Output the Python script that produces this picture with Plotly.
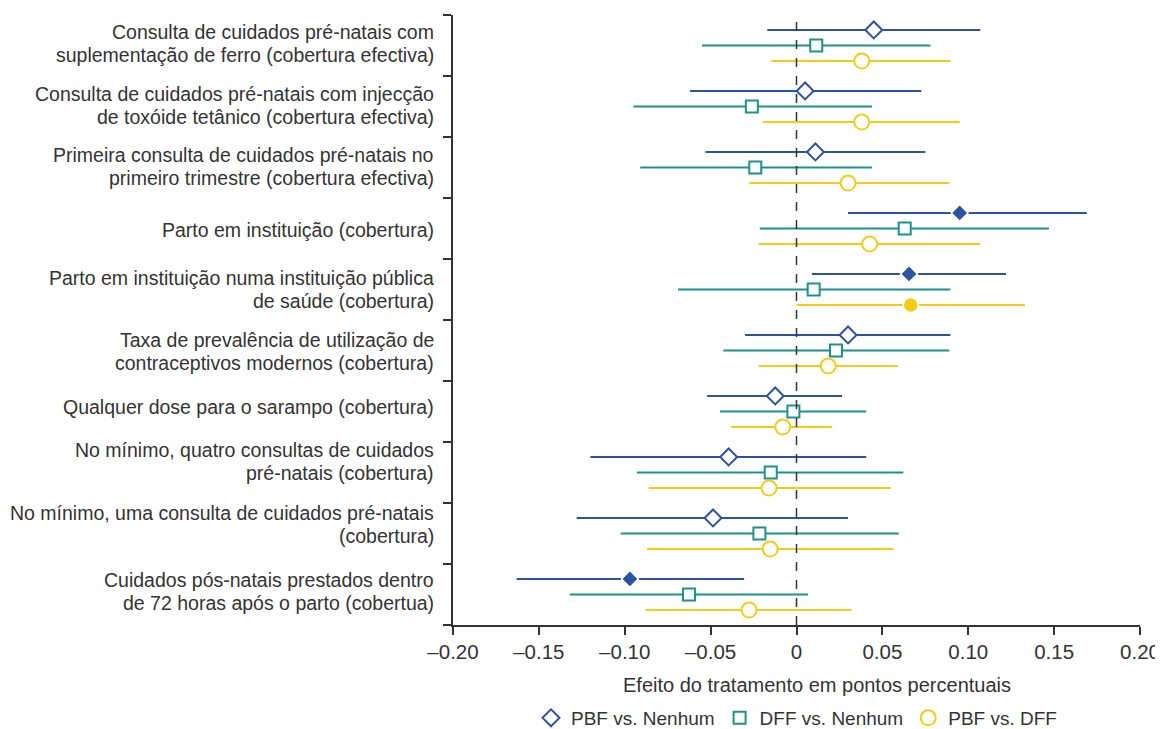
import plotly.graph_objects as go

categories = [
    "Consulta de cuidados pré-natais com<br>suplementação de ferro (cobertura efectiva)",
    "Consulta de cuidados pré-natais com injecção<br>de toxóide tetânico (cobertura efectiva)",
    "Primeira consulta de cuidados pré-natais no<br>primeiro trimestre (cobertura efectiva)",
    "Parto em instituição (cobertura)",
    "Parto em instituição numa instituição pública<br>de saúde (cobertura)",
    "Taxa de prevalência de utilização de<br>contraceptivos modernos (cobertura)",
    "Qualquer dose para o sarampo (cobertura)",
    "No mínimo, quatro consultas de cuidados<br>pré-natais (cobertura)",
    "No mínimo, uma consulta de cuidados pré-natais<br>(cobertura)",
    "Cuidados pós-natais prestados dentro<br>de 72 horas após o parto (cobertua)",
]

series_names = ["PBF vs. Nenhum", "DFF vs. Nenhum", "PBF vs. DFF"]

pbf_est = [0.045, 0.005, 0.011, 0.095, 0.0655, 0.030, -0.0124, -0.0395, -0.0486, -0.097]
pbf_lo = [-0.017, -0.062, -0.053, 0.030, 0.009, -0.030, -0.052, -0.120, -0.128, -0.163]
pbf_hi = [0.107, 0.0727, 0.075, 0.169, 0.122, 0.0896, 0.0265, 0.0406, 0.030, -0.0305]
pbf_sig = [False, False, False, True, True, False, False, False, False, True]

dff_est = [0.0115, -0.026, -0.024, 0.063, 0.010, 0.023, -0.0018, -0.015, -0.0216, -0.0626]
dff_lo = [-0.055, -0.095, -0.091, -0.0214, -0.069, -0.0426, -0.0445, -0.093, -0.1024, -0.132]
dff_hi = [0.078, 0.044, 0.044, 0.147, 0.0896, 0.089, 0.0406, 0.0622, 0.0595, 0.0068]
dff_sig = [False] * 10

pd_est = [0.038, 0.038, 0.030, 0.0426, 0.0665, 0.0185, -0.008, -0.016, -0.0153, -0.0276]
pd_lo = [-0.0146, -0.0196, -0.0274, -0.022, 0.0, -0.022, -0.038, -0.086, -0.087, -0.088]
pd_hi = [0.0896, 0.095, 0.089, 0.107, 0.133, 0.059, 0.0208, 0.0549, 0.0564, 0.032]
pd_sig = [False, False, False, False, True, False, False, False, False, False]

x_ticks = [-0.20, -0.15, -0.10, -0.05, 0, 0.05, 0.10, 0.15, 0.20]
x_ticktext = ["–0.20", "–0.15", "–0.10", "–0.05", "0", "0.05", "0.10", "0.15", "0.20"]
x_title = "Efeito do tratamento em pontos percentuais"

colors = ["#2E539E", "#1E918D", "#F5CB16"]
symbols = ["diamond", "square", "circle"]
sizes = [13, 12, 15]
offsets = [-0.255, 0.0, 0.255]

# per-label vertical nudges in pixels (positive = down), as in the reference layout
label_nudge = [1, 2, 2, 4, 3, 4, -2, -8, -6, 0]

FONT = "Liberation Sans"
TXT = "#333333"
LABEL_SIZE = 19.5
LINE_GAP = 23

fig = go.Figure()
data = [
    (pbf_est, pbf_lo, pbf_hi, pbf_sig),
    (dff_est, dff_lo, dff_hi, dff_sig),
    (pd_est, pd_lo, pd_hi, pd_sig),
]
n = len(categories)
for s, (est, lo, hi, sig) in enumerate(data):
    ys = [i + offsets[s] for i in range(n)]
    fill = [colors[s] if g else "white" for g in sig]
    lcol = ["white" if g else colors[s] for g in sig]
    lw = [1.5 if g else 2 for g in sig]
    fig.add_trace(go.Scatter(
        x=est, y=ys, mode="markers", showlegend=False,
        marker=dict(symbol=symbols[s], size=sizes[s], color=fill,
                    line=dict(color=lcol, width=lw)),
        error_x=dict(type="data", symmetric=False,
                     array=[h - e for h, e in zip(hi, est)],
                     arrayminus=[e - l for e, l in zip(est, lo)],
                     color=colors[s], thickness=2, width=0),
        hoverinfo="skip",
    ))
    fig.add_trace(go.Scatter(
        x=[None], y=[None], mode="markers", name=series_names[s],
        marker=dict(symbol=symbols[s] + "-open", size=sizes[s], color=colors[s],
                    line=dict(width=2)),
    ))

for i, c in enumerate(categories):
    lines = c.split("<br>")
    k = len(lines)
    for j, ln in enumerate(lines):
        shift = -((j - (k - 1) / 2) * LINE_GAP) + 3 - label_nudge[i]
        fig.add_annotation(x=0, xref="paper", y=i, yref="y", text=ln,
                           xanchor="right", yanchor="middle", align="right",
                           xshift=-17, yshift=shift, showarrow=False,
                           font=dict(family=FONT, size=LABEL_SIZE, color=TXT))

fig.add_annotation(x=0.5, xref="paper", y=0, yref="paper", text=x_title,
                   xanchor="center", yanchor="middle", xshift=20, yshift=-60,
                   showarrow=False, font=dict(family=FONT, size=20, color=TXT))

fig.add_shape(type="line", x0=0, x1=0, xref="x", y0=0, y1=1, yref="paper",
              line=dict(color="#333333", width=1.5, dash="dash"))
# small overhang of the x axis line to the left of the y axis
fig.add_shape(type="line", xref="x", xsizemode="pixel", xanchor=-0.20, x0=-8, x1=0,
              yref="paper", y0=0, y1=0, line=dict(color="#333333", width=1.5))

# the page body has an 8px margin, so the figure is offset by 8px
fig.update_layout(
    width=1163, height=729,
    margin=dict(l=445, r=31, t=7, b=112),
    plot_bgcolor="white", paper_bgcolor="white",
    font=dict(family=FONT, size=19, color=TXT),
    xaxis=dict(range=[-0.20, 0.20], tickvals=x_ticks, ticktext=x_ticktext,
               showline=True, linecolor="#333333", linewidth=1.5,
               ticks="outside", ticklen=8, tickwidth=1.5, tickcolor="#333333",
               showgrid=False, zeroline=False, ticklabeloverflow="allow",
               tickfont=dict(family=FONT, size=20.5, color=TXT)),
    yaxis=dict(range=[n - 0.5, -0.5], tickvals=[i - 0.5 for i in range(n + 1)],
               ticktext=[""] * (n + 1), showline=True, linecolor="#333333",
               linewidth=1.5, ticks="outside", ticklen=8, tickwidth=1.5,
               tickcolor="#333333", showgrid=False, zeroline=False),
    legend=dict(orientation="h", x=0.5, xanchor="center", xref="paper",
                y=(729 - 710) / 729, yref="container", yanchor="middle",
                font=dict(family=FONT, size=19, color=TXT),
                itemwidth=30, tracegroupgap=0),
)

fig.write_html("out.html")
